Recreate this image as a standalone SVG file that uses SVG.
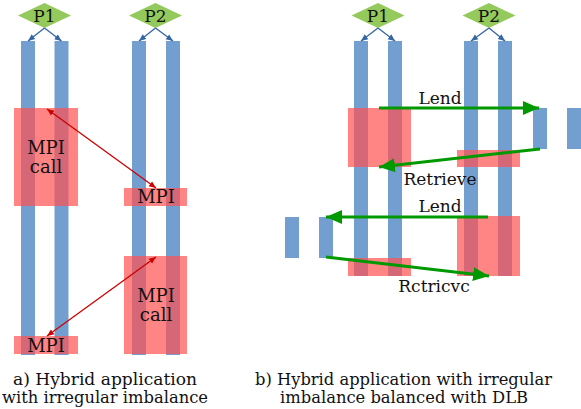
<svg xmlns="http://www.w3.org/2000/svg" width="581" height="409" viewBox="0 0 581 409" font-family="'DejaVu Serif', serif">
<style>
  text { font-family: 'DejaVu Serif', 'Liberation Serif', serif; fill: #111; }
  .bar { fill: #729fcf; }
  .box { fill: #ff5050; fill-opacity: 0.7; }
  .dia { fill: #94c95c; }
  .lbl { font-size: 17px; text-anchor: middle; }
  .mpi { font-size: 18px; text-anchor: middle; }
  .plbl { font-size: 17px; text-anchor: middle; }
  .cap { font-size: 16px; text-anchor: middle; }
  .blue { stroke: #3465a4; stroke-width: 1.3; fill: none; marker-end: url(#ab); }
  .red { stroke: #cc0000; stroke-width: 1.3; fill: none; marker-start: url(#ars); marker-end: url(#are); }
  .green { stroke: #009900; stroke-width: 3; fill: none; marker-end: url(#ag); }
</style>
<defs>
  <marker id="ab" markerUnits="userSpaceOnUse" markerWidth="8" markerHeight="8" refX="7" refY="4" orient="auto">
    <path d="M0,1 L7,4 L0,7 z" fill="#3465a4"/>
  </marker>
  <marker id="are" markerUnits="userSpaceOnUse" markerWidth="8" markerHeight="8" refX="7" refY="4" orient="auto">
    <path d="M0,1 L7,4 L0,7 z" fill="#cc0000"/>
  </marker>
  <marker id="ars" markerUnits="userSpaceOnUse" markerWidth="8" markerHeight="8" refX="1" refY="4" orient="auto">
    <path d="M8,1 L1,4 L8,7 z" fill="#cc0000"/>
  </marker>
  <marker id="ag" markerUnits="userSpaceOnUse" markerWidth="18" markerHeight="16" refX="16" refY="8" orient="auto">
    <path d="M0,1 L16,8 L0,15 z" fill="#009900"/>
  </marker>
</defs>

<!-- Panel a -->
<g id="a-P1">
  <polygon class="dia" points="18,15.5 44.5,3 71,15.5 44.5,28"/>
  <text class="plbl" x="44.5" y="21.5">P1</text>
</g>
<g id="a-P2">
  <polygon class="dia" points="129,15.5 155.5,3 182,15.5 155.5,28"/>
  <text class="plbl" x="155.5" y="21.5">P2</text>
</g>
<g id="a-threads">
  <rect class="bar" x="21" y="41" width="14" height="314"/>
  <rect class="bar" x="54.5" y="41" width="14" height="314"/>
  <rect class="bar" x="132" y="41" width="14" height="314"/>
  <rect class="bar" x="166" y="41" width="14" height="314"/>
</g>
<g id="a-mpi-call-1">
  <rect class="box" x="14" y="108" width="64" height="98"/>
  <text class="mpi" x="46" y="154">MPI</text>
  <text class="mpi" x="46" y="173">call</text>
</g>
<g id="a-mpi-1">
  <rect class="box" x="124" y="188" width="63" height="18"/>
  <text class="mpi" x="156" y="203">MPI</text>
</g>
<g id="a-mpi-2">
  <rect class="box" x="14" y="336" width="64" height="18"/>
  <text class="mpi" x="46" y="351.5">MPI</text>
</g>
<g id="a-mpi-call-2">
  <rect class="box" x="124" y="256" width="63" height="98"/>
  <text class="mpi" x="156" y="302">MPI</text>
  <text class="mpi" x="156" y="321">call</text>
</g>

<!-- Panel b -->
<g id="b-P1">
  <polygon class="dia" points="351.5,15.5 378,3 404.5,15.5 378,28"/>
  <text class="plbl" x="378" y="21.5">P1</text>
</g>
<g id="b-P2">
  <polygon class="dia" points="462.5,15.5 489,3 515.5,15.5 489,28"/>
  <text class="plbl" x="489" y="21.5">P2</text>
</g>
<g id="b-threads">
  <rect class="bar" x="354" y="41" width="14" height="235"/>
  <rect class="bar" x="388" y="41" width="14" height="235"/>
  <rect class="bar" x="464" y="41" width="14" height="235"/>
  <rect class="bar" x="498" y="41" width="14" height="235"/>
</g>
<g id="b-lent-right">
  <rect class="bar" x="533" y="108" width="14" height="41"/>
  <rect class="bar" x="567" y="108" width="14" height="41"/>
</g>
<g id="b-lent-left">
  <rect class="bar" x="285" y="217" width="14" height="41"/>
  <rect class="bar" x="319" y="217" width="14" height="41"/>
</g>
<g id="b-boxes">
  <rect class="box" x="348" y="108" width="63" height="59"/>
  <rect class="box" x="457" y="150" width="63" height="17"/>
  <rect class="box" x="348" y="258" width="63" height="18"/>
  <rect class="box" x="457" y="216" width="63" height="60"/>
</g>

<g id="connectors">
  <line class="blue" x1="44.5" y1="28" x2="28" y2="41"/>
  <line class="blue" x1="44.5" y1="28" x2="61.5" y2="41"/>
  <line class="blue" x1="155.5" y1="28" x2="139" y2="41"/>
  <line class="blue" x1="155.5" y1="28" x2="173" y2="41"/>
  <line class="blue" x1="378" y1="28" x2="361" y2="41"/>
  <line class="blue" x1="378" y1="28" x2="395" y2="41"/>
  <line class="blue" x1="489" y1="28" x2="471" y2="41"/>
  <line class="blue" x1="489" y1="28" x2="505" y2="41"/>
  <line class="red" x1="47" y1="109" x2="156" y2="188"/>
  <line class="red" x1="47" y1="336" x2="156" y2="257"/>
  <line class="green" x1="379" y1="108" x2="539" y2="108"/>
  <line class="green" x1="540" y1="149" x2="379" y2="167"/>
  <line class="green" x1="488" y1="217" x2="326" y2="217"/>
  <line class="green" x1="326" y1="257" x2="489" y2="276"/>
  <text class="lbl" x="440" y="104">Lend</text>
  <text class="lbl" x="440" y="185">Retrieve</text>
  <text class="lbl" x="440" y="212">Lend</text>
  <text class="lbl" x="434" y="292">Rctricvc</text>
</g>

<g id="captions">
  <text class="cap" x="105" y="385" textLength="184" lengthAdjust="spacingAndGlyphs">a) Hybrid application</text>
  <text class="cap" x="105" y="403" textLength="206" lengthAdjust="spacingAndGlyphs">with irregular imbalance</text>
  <text class="cap" x="403.5" y="385" textLength="297" lengthAdjust="spacingAndGlyphs">b) Hybrid application with irregular</text>
  <text class="cap" x="404" y="403" textLength="248" lengthAdjust="spacingAndGlyphs">imbalance balanced with DLB</text>
</g>
</svg>
